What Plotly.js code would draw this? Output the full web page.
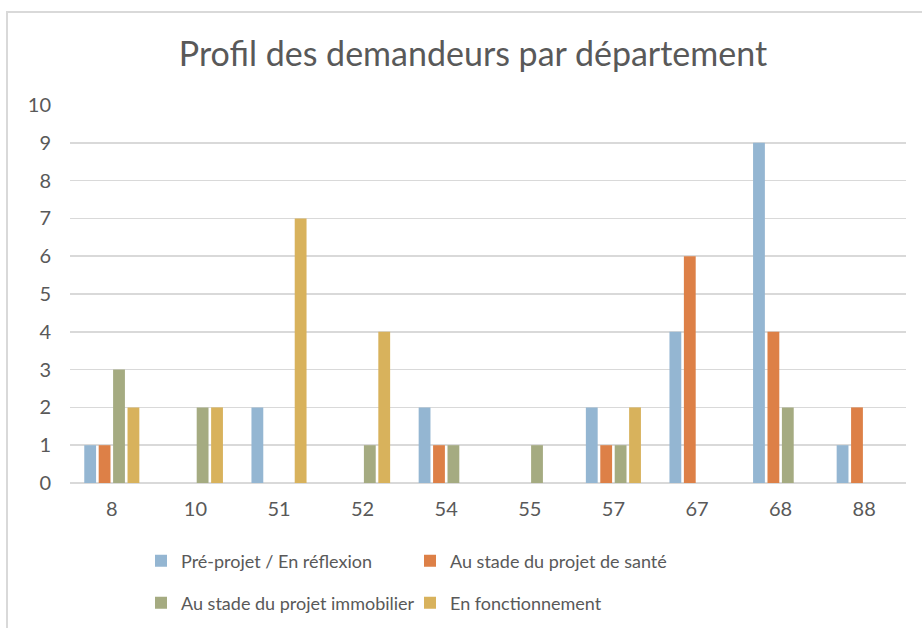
<!DOCTYPE html>
<html>
<head>
<meta charset="utf-8">
<script src="https://cdn.plot.ly/plotly-3.0.1.min.js"></script>
<style>
  html, body { margin: 0; padding: 0; background: #ffffff; }
  #wrap { position: relative; width: 922px; height: 628px; overflow: hidden; }
  #chart { position: absolute; left: 0; top: 0; width: 922px; height: 628px; }
  #frame { position: absolute; left: 6px; top: 11px; width: 1000px; height: 1000px;
           border: 2px solid #d9d9d9; pointer-events: none; box-sizing: border-box; }
</style>
</head>
<body>
<div id="wrap">
  <div id="chart"></div>
  <div id="frame"></div>
</div>
<script>
const departements = ["8", "10", "51", "52", "54", "55", "57", "67", "68", "88"];
const preProjet     = [1, 0, 2, 0, 2, 0, 2, 4, 9, 1];
const projetSante   = [1, 0, 0, 0, 1, 0, 1, 6, 4, 2];
const projetImmo    = [3, 2, 0, 1, 1, 1, 1, 0, 2, 0];
const fonctionnement = [2, 2, 7, 4, 0, 0, 2, 0, 0, 0];
const seriesNames = ["Pré-projet / En réflexion", "Au stade du projet de santé",
                     "Au stade du projet immobilier", "En fonctionnement"];
const yTicks = [0, 1, 2, 3, 4, 5, 6, 7, 8, 9, 10];

const colors = ["#94B6D2", "#DD8047", "#A5AB81", "#D8B25C"];
const FONT = "Lato, 'Open Sans', sans-serif";
const allValues = [preProjet, projetSante, projetImmo, fonctionnement];
const legendIds = ["legend", "legend2", "legend3", "legend4"];

const traces = allValues.map((vals, i) => ({
  type: "bar",
  name: seriesNames[i],
  x: departements,
  y: vals,
  marker: { color: colors[i], line: { width: 0 } },
  legend: legendIds[i],
  hoverinfo: "x+y+name"
}));

const legendCommon = {
  orientation: "h",
  xref: "container", yref: "container",
  xanchor: "left", yanchor: "middle",
  font: { family: FONT, size: 18, color: "#595959" },
  itemwidth: 30,
  bgcolor: "rgba(0,0,0,0)"
};
// column / row anchors (pixels) for the 2x2 legend grid
const legendCols = [141, 410];
const legendRows = [561, 603];

const layout = {
  width: 922, height: 628,
  paper_bgcolor: "#ffffff", plot_bgcolor: "#ffffff",
  margin: { l: 70, r: 16, t: 105, b: 145 },
  font: { family: FONT, color: "#595959" },
  title: {
    text: "Profil des demandeurs par département",
    font: { family: FONT, size: 34, color: "#595959" },
    xref: "container", x: 0.513, xanchor: "center",
    yref: "container", y: 1 - 54 / 628, yanchor: "middle"
  },
  barmode: "group",
  bargap: 0.31,
  bargroupgap: 0.18,
  xaxis: {
    type: "category",
    tickfont: { family: FONT, size: 20, color: "#595959" },
    showgrid: false, zeroline: false,
    showline: false, ticks: "",
    ticklabelstandoff: 12
  },
  yaxis: {
    range: [0, 10],
    tickvals: yTicks,
    ticktext: yTicks.map(String),
    tickfont: { family: FONT, size: 20, color: "#595959" },
    showgrid: true, gridcolor: "#d9d9d9", gridwidth: 1.5,
    zeroline: true, zerolinecolor: "#d9d9d9", zerolinewidth: 1.5,
    showline: false, ticks: "",
    ticklabelstandoff: 18,
    fixedrange: true
  },
  showlegend: true
};
legendIds.forEach((id, i) => {
  layout[id] = Object.assign({}, legendCommon, {
    x: legendCols[i % 2] / 922,
    y: 1 - legendRows[Math.floor(i / 2)] / 628
  });
});

Plotly.newPlot("chart", traces, layout, { displayModeBar: false, staticPlot: true });
</script>
</body>
</html>
